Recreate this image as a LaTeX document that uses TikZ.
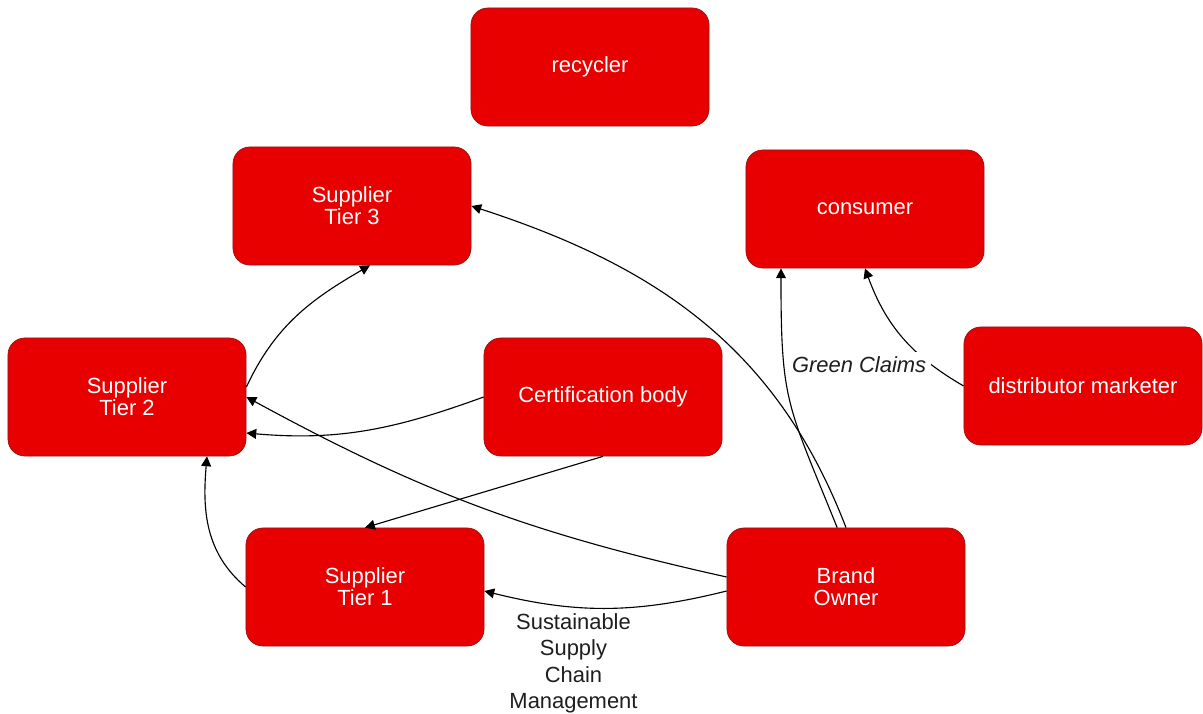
\documentclass[tikz,border=0pt]{standalone}
\usepackage{fontspec}
\setmainfont{Liberation Sans}
\usepackage{tikz}
\usetikzlibrary{arrows.meta, positioning, calc}
\definecolor{boxred}{RGB}{232, 0, 0}
\definecolor{edgered}{RGB}{150, 20, 20}
\definecolor{inkgray}{RGB}{30, 30, 30}

\begin{document}
\begin{tikzpicture}[
    x=0.025cm, y=-0.025cm,
    box/.style={rectangle, draw=edgered, fill=boxred, text=white,
                minimum width=5.95cm, minimum height=2.95cm, align=center,
                rounded corners=12pt, line width=0.5pt,
                font=\fontsize{15.6}{15.8}\selectfont},
    arr/.style={-{Triangle[length=7pt, width=7pt]}, line width=0.8pt, black},
    lbl/.style={align=center, text=inkgray, font=\fontsize{15.6}{18.8}\selectfont},
]
\useasboundingbox (0,0) rectangle (1203,714);

% Top row
\node[box] (recycler) at (590,67) {recycler};
\node[box] (tier3) at (352,206) {Supplier\\Tier 3};
\node[box] (consumer) at (865,209) {consumer};

% Middle row
\node[box] (tier2) at (127,397) {Supplier\\Tier 2};
\node[box] (cert) at (603,397) {Certification body};
\node[box] (distrib) at (1083,386) {distributor marketer};

% Bottom row
\node[box] (tier1) at (365,587) {Supplier\\Tier 1};
\node[box] (brand) at (846,587) {Brand\\Owner};

% Arrows
\draw[arr] (tier1.west) to[out=140, in=-95] ([xshift=2cm]tier2.south);
\draw[arr] ([yshift=0.25cm]tier2.east) to[out=65, in=-150] ([xshift=0.45cm]tier3.south);
\draw[arr] (cert.west) to[out=-160, in=-5] ([yshift=-0.9cm]tier2.east);
\draw[arr] (cert.south) -- (tier1.north);
\draw[arr] ([yshift=0.25cm]brand.west) to[bend left=8] (tier2.east);
\draw[arr] ([yshift=-0.1cm]brand.west) to[bend left=14]
    node[lbl, pos=0.5, below=0pt, xshift=-0.8cm] {Sustainable\\Supply\\Chain\\Management}
    ([yshift=-0.1cm]tier1.east);
\draw[arr] (brand.north) to[out=111, in=-18] (tier3.east);
\draw[arr] (distrib.west) to[out=150, in=-70] (consumer.south);
\draw[arr] ([xshift=-0.22cm]brand.north) to[out=112, in=-90, looseness=1.3]
    node[lbl, pos=0.68, right=2pt, fill=white, font=\fontsize{15.6}{18.8}\selectfont\itshape] {Green Claims}
    ([xshift=-2.1cm]consumer.south);

\end{tikzpicture}
\end{document}
